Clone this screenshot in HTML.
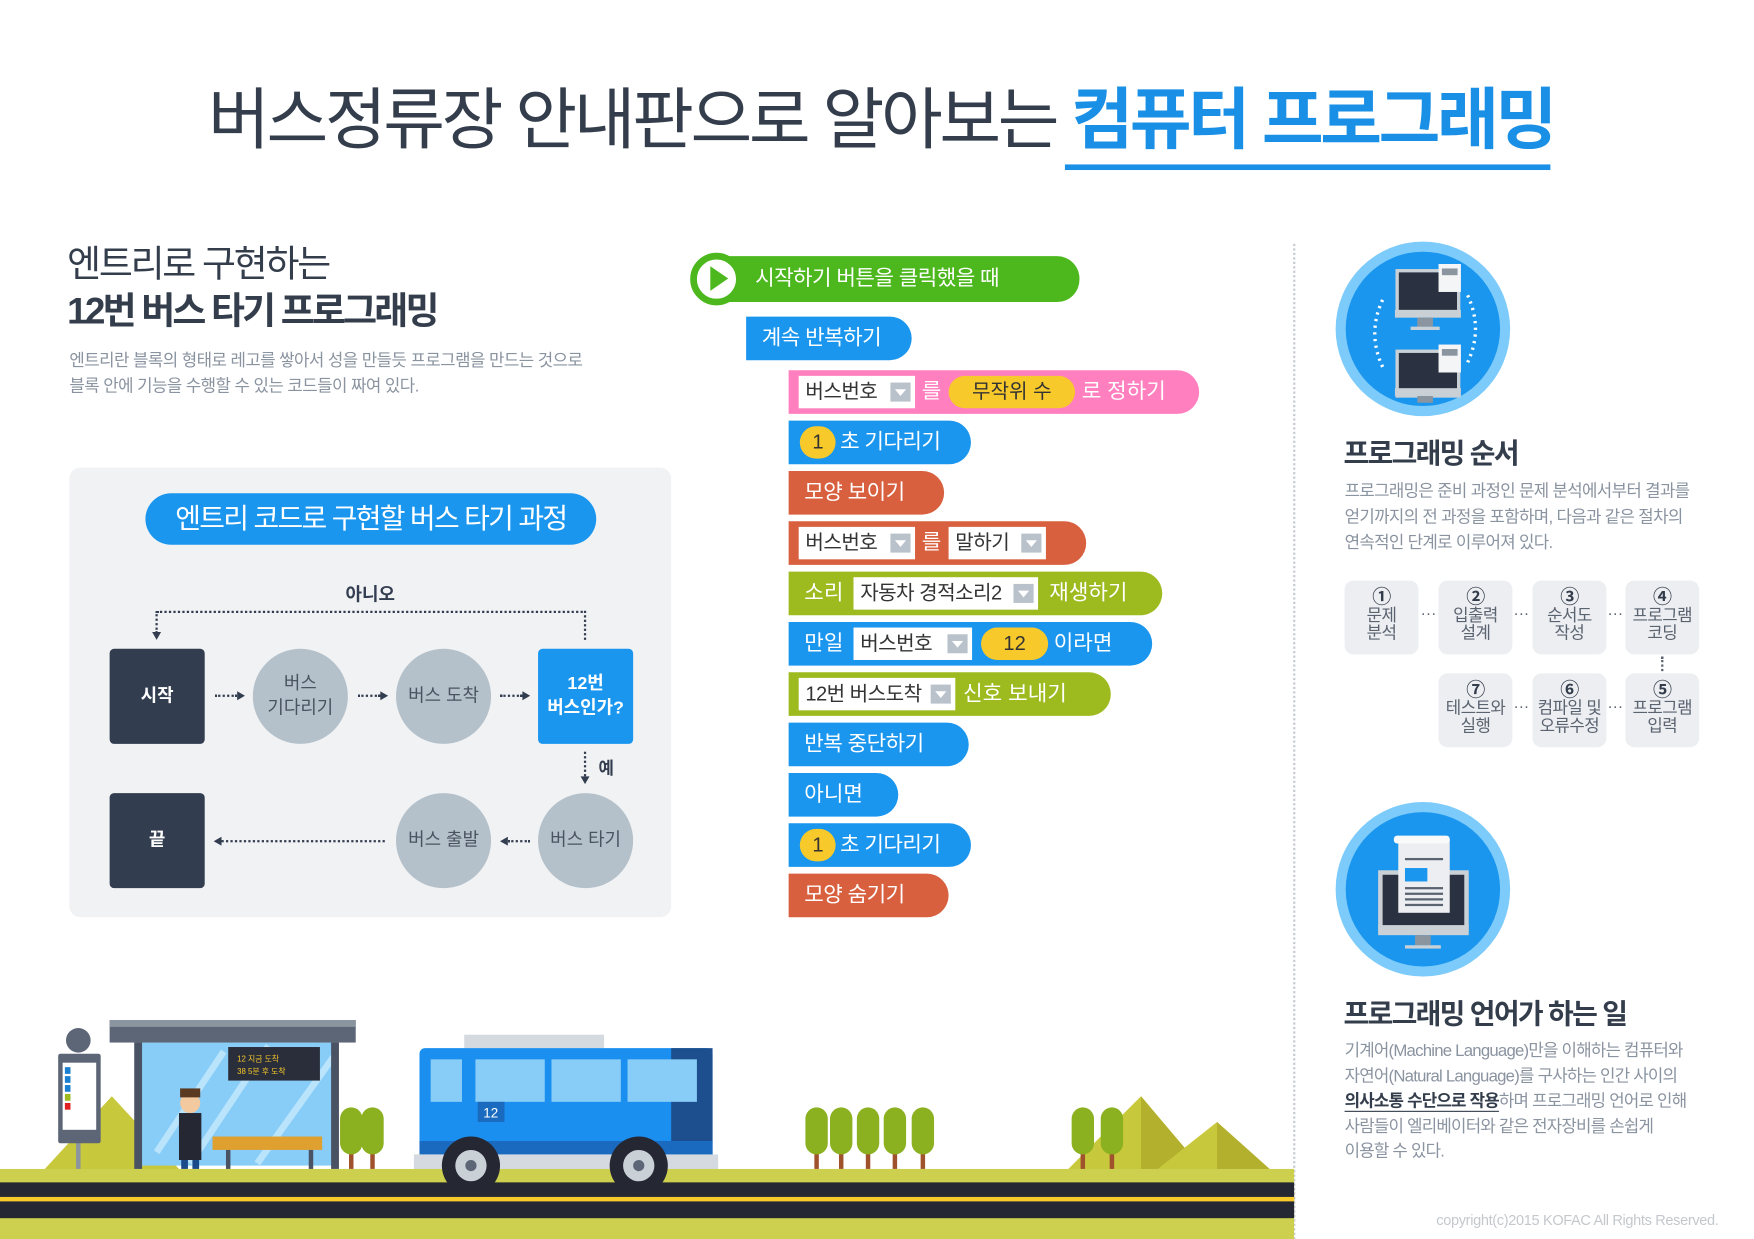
<!DOCTYPE html>
<html><head><meta charset="utf-8"><style>
*{margin:0;padding:0;box-sizing:border-box}
body{width:1754px;height:1239px;overflow:hidden;background:#fff;font-family:"Liberation Sans","Noto Sans CJK KR",sans-serif}
#w{position:absolute;left:0;top:0;width:1568px;height:1108px;transform:scale(1.11862);transform-origin:0 0}
.a{position:absolute}
.blk{position:absolute;height:39px;border-radius:0 20px 20px 0;color:#fff;font-size:19px;line-height:39px;padding-left:14px;white-space:nowrap}
.dd{position:absolute;top:5px;height:29px;background:#fff;color:#333;font-size:18px;line-height:29px;padding-left:6px;letter-spacing:-0.5px}
.dd i{position:absolute;right:4px;top:6px;width:18px;height:17px;background:#b9c2cb}
.dd i:after{content:"";position:absolute;left:4px;top:6px;border-left:5px solid transparent;border-right:5px solid transparent;border-top:6px solid #fff}
.yl{position:absolute;top:5px;height:29px;background:#f8c92a;border-radius:15px;color:#333;font-size:18px;line-height:29px;text-align:center}
.node{position:absolute;width:85px;height:85px;display:flex;align-items:center;justify-content:center;text-align:center;font-size:16px;line-height:22px}
.sq{background:#333d50;color:#fff;border-radius:4px;font-weight:bold}
.ci{background:#b5c1ca;color:#4a5360;border-radius:50%}
.dot{position:absolute;border-top:2px dotted #333d50;height:0}
.vdot{position:absolute;border-left:2px dotted #333d50;width:0}
.arr{position:absolute;width:0;height:0}
.step{position:absolute;width:66px;height:66px;background:#eceef1;border-radius:8px;color:#5a6370;font-size:15px;line-height:16px;text-align:center;padding-top:6px;letter-spacing:-0.5px}
.step b{font-size:17px;color:#333d4b;display:block;line-height:18px}
.sd{position:absolute;color:#5a6370;font-size:14px}
.desc{color:#8a93a0;font-size:15px;line-height:23px}
</style></head><body><div id="w">

<div class="a" style="left:186px;top:68px;font-size:60px;color:#333d4b;letter-spacing:-3px;white-space:nowrap;line-height:80px">버스정류장 안내판으로 알아보는 <span style="color:#1a8fe6;font-weight:bold">컴퓨터 프로그래밍</span></div>
<div class="a" style="left:952px;top:147px;width:434px;height:5px;background:#1a8fe6"></div>

<div class="a" style="left:60px;top:216px;font-size:33px;color:#333d4b;letter-spacing:-2px;line-height:40px">엔트리로 구현하는</div>
<div class="a" style="left:60px;top:258px;font-size:33px;color:#333d4b;font-weight:bold;letter-spacing:-2.5px;line-height:40px">12번 버스 타기 프로그래밍</div>
<div class="a desc" style="left:62px;top:311px;letter-spacing:-0.5px">엔트리란 블록의 형태로 레고를 쌓아서 성을 만들듯 프로그램을 만드는 것으로<br>블록 안에 기능을 수행할 수 있는 코드들이 짜여 있다.</div>

<div class="a" style="left:62px;top:418px;width:538px;height:402px;background:#f1f2f4;border-radius:10px"></div>
<div class="a" style="left:130px;top:441px;width:403px;height:46px;background:#1a96ef;border-radius:23px;color:#fff;font-size:25px;line-height:46px;text-align:center;letter-spacing:-1.5px">엔트리 코드로 구현할 버스 타기 과정</div>
<div class="a" style="left:300px;top:518px;width:62px;text-align:center;font-size:16px;font-weight:bold;color:#333d50">아니오</div>
<div class="dot" style="left:140px;top:546px;width:384px"></div>
<div class="vdot" style="left:139px;top:546px;height:20px"></div>
<div class="arr" style="left:136px;top:565px;border-left:4px solid transparent;border-right:4px solid transparent;border-top:7px solid #333d50"></div>
<div class="vdot" style="left:522px;top:546px;height:26px"></div>

<div class="node sq" style="left:98px;top:580px">시작</div>
<div class="node ci" style="left:226px;top:580px">버스<br>기다리기</div>
<div class="node ci" style="left:354px;top:580px">버스 도착</div>
<div class="node sq" style="left:481px;top:580px;background:#1a96ef">12번<br>버스인가?</div>
<div class="dot" style="left:192px;top:621px;width:20px"></div><div class="arr" style="left:212px;top:618px;border-top:4px solid transparent;border-bottom:4px solid transparent;border-left:7px solid #333d50"></div>
<div class="dot" style="left:320px;top:621px;width:20px"></div><div class="arr" style="left:340px;top:618px;border-top:4px solid transparent;border-bottom:4px solid transparent;border-left:7px solid #333d50"></div>
<div class="dot" style="left:447px;top:621px;width:20px"></div><div class="arr" style="left:467px;top:618px;border-top:4px solid transparent;border-bottom:4px solid transparent;border-left:7px solid #333d50"></div>
<div class="vdot" style="left:522px;top:672px;height:22px"></div><div class="arr" style="left:519px;top:694px;border-left:4px solid transparent;border-right:4px solid transparent;border-top:7px solid #333d50"></div>
<div class="a" style="left:535px;top:676px;font-size:15px;font-weight:bold;color:#333d50">예</div>

<div class="node sq" style="left:98px;top:709px">끝</div>
<div class="node ci" style="left:354px;top:709px">버스 출발</div>
<div class="node ci" style="left:481px;top:709px">버스 타기</div>
<div class="dot" style="left:198px;top:751px;width:146px"></div><div class="arr" style="left:191px;top:748px;border-top:4px solid transparent;border-bottom:4px solid transparent;border-right:7px solid #333d50"></div>
<div class="dot" style="left:454px;top:751px;width:20px"></div><div class="arr" style="left:447px;top:748px;border-top:4px solid transparent;border-bottom:4px solid transparent;border-right:7px solid #333d50"></div>

<div class="blk" style="left:640px;top:229px;width:325px;height:41px;background:#4cb81e;padding-left:35px;line-height:41px;letter-spacing:-0.5px">시작하기 버튼을 클릭했을 때</div>
<div class="a" style="left:617px;top:226px;width:47px;height:47px;border-radius:50%;background:#fff;border:6px solid #4cb81e"></div>
<div class="arr" style="left:635px;top:238px;border-top:11px solid transparent;border-bottom:11px solid transparent;border-left:16px solid #4cb81e"></div>

<div class="blk" style="left:667px;top:283px;width:148px;background:#1a96ef;letter-spacing:-0.5px">계속 반복하기</div>

<div class="blk" style="left:705px;top:331px;width:367px;background:#ff7fbf">
 <div class="dd" style="left:9px;width:104px">버스번호<i></i></div>
 <span style="position:absolute;left:119px">를</span>
 <div class="yl" style="left:143px;width:113px">무작위 수</div>
 <span style="position:absolute;left:262px">로 정하기</span>
</div>
<div class="blk" style="left:705px;top:376px;width:163px;background:#1a96ef;padding-left:46px;letter-spacing:-0.5px"><div class="yl" style="left:10px;width:32px">1</div>초 기다리기</div>
<div class="blk" style="left:705px;top:421px;width:139px;background:#d8603f;letter-spacing:-0.5px">모양 보이기</div>
<div class="blk" style="left:705px;top:466px;width:266px;background:#d8603f">
 <div class="dd" style="left:9px;width:104px">버스번호<i></i></div>
 <span style="position:absolute;left:119px">를</span>
 <div class="dd" style="left:143px;width:87px">말하기<i></i></div>
</div>
<div class="blk" style="left:705px;top:511px;width:334px;background:#9dba1f">소리
 <div class="dd" style="left:58px;width:165px">자동차 경적소리2<i></i></div>
 <span style="position:absolute;left:233px">재생하기</span>
</div>
<div class="blk" style="left:705px;top:556px;width:325px;background:#1a96ef">만일
 <div class="dd" style="left:58px;width:106px">버스번호<i></i></div>
 <div class="yl" style="left:172px;width:60px">12</div>
 <span style="position:absolute;left:237px">이라면</span>
</div>
<div class="blk" style="left:705px;top:601px;width:288px;background:#9dba1f">
 <div class="dd" style="left:9px;width:140px">12번 버스도착<i></i></div>
 <span style="position:absolute;left:156px">신호 보내기</span>
</div>
<div class="blk" style="left:705px;top:646px;width:161px;background:#1a96ef;letter-spacing:-0.5px">반복 중단하기</div>
<div class="blk" style="left:705px;top:691px;width:98px;background:#1a96ef">아니면</div>
<div class="blk" style="left:705px;top:736px;width:163px;background:#1a96ef;padding-left:46px;letter-spacing:-0.5px"><div class="yl" style="left:10px;width:32px">1</div>초 기다리기</div>
<div class="blk" style="left:705px;top:781px;width:143px;background:#d8603f;letter-spacing:-0.5px">모양 숨기기</div>

<div class="a" style="left:1156px;top:218px;height:890px;border-left:2px dotted #c8ccd2"></div>

<div class="a" style="left:1194px;top:216px;width:156px;height:156px;border-radius:50%;background:#7dcbfa"></div>
<div class="a" style="left:1203px;top:225px;width:138px;height:138px;border-radius:50%;background:#1a96ef"></div>
<svg class="a" style="left:1194px;top:216px" width="156" height="156">
 <rect x="55" y="26" width="55" height="40" fill="#2a3140" stroke="#c9d0d6" stroke-width="3"/>
 <rect x="53" y="61" width="59" height="7" fill="#c9d0d6"/><rect x="73" y="68" width="14" height="8" fill="#8a95a0"/><rect x="67" y="76" width="26" height="3" fill="#c9d0d6"/>
 <rect x="92" y="20" width="20" height="25" fill="#f4f5f6"/><rect x="95" y="24" width="14" height="6" fill="#8a95a0"/>
 <rect x="55" y="98" width="55" height="40" fill="#2a3140" stroke="#c9d0d6" stroke-width="3"/>
 <rect x="53" y="131" width="59" height="7" fill="#c9d0d6"/><rect x="73" y="138" width="14" height="6" fill="#8a95a0"/>
 <rect x="92" y="92" width="20" height="25" fill="#f4f5f6"/><rect x="95" y="96" width="14" height="6" fill="#8a95a0"/>
 <path d="M42 112 Q28 82 42 52" stroke="#fff" stroke-width="3" stroke-dasharray="2 4" fill="none"/>
 <path d="M118 48 Q132 78 118 108" stroke="#fff" stroke-width="3" stroke-dasharray="2 4" fill="none"/>
</svg>
<div class="a" style="left:1201px;top:386px;font-size:25px;font-weight:bold;color:#333d4b;letter-spacing:-1.5px">프로그래밍 순서</div>
<div class="a desc" style="left:1202px;top:428px;letter-spacing:-0.6px">프로그래밍은 준비 과정인 문제 분석에서부터 결과를<br>얻기까지의 전 과정을 포함하며, 다음과 같은 절차의<br>연속적인 단계로 이루어져 있다.</div>

<div class="step" style="left:1202px;top:519px"><b>①</b>문제<br>분석</div>
<div class="step" style="left:1286px;top:519px"><b>②</b>입출력<br>설계</div>
<div class="step" style="left:1370px;top:519px"><b>③</b>순서도<br>작성</div>
<div class="step" style="left:1453px;top:519px"><b>④</b>프로그램<br>코딩</div>
<div class="step" style="left:1286px;top:602px"><b>⑦</b>테스트와<br>실행</div>
<div class="step" style="left:1370px;top:602px"><b>⑥</b>컴파일 및<br>오류수정</div>
<div class="step" style="left:1453px;top:602px"><b>⑤</b>프로그램<br>입력</div>
<div class="sd" style="left:1270px;top:540px">···</div>
<div class="sd" style="left:1353px;top:540px">···</div>
<div class="sd" style="left:1437px;top:540px">···</div>
<div class="sd" style="left:1353px;top:623px">···</div>
<div class="sd" style="left:1437px;top:623px">···</div>
<div class="vdot" style="left:1485px;top:587px;height:13px;border-color:#5a6370"></div>

<div class="a" style="left:1194px;top:717px;width:156px;height:156px;border-radius:50%;background:#7dcbfa"></div>
<div class="a" style="left:1203px;top:726px;width:138px;height:138px;border-radius:50%;background:#1a96ef"></div>
<svg class="a" style="left:1194px;top:717px" width="156" height="156">
 <rect x="40" y="63" width="77" height="50" fill="#2a3140" stroke="#c9d0d6" stroke-width="4"/>
 <rect x="38" y="110" width="81" height="9" fill="#c9d0d6"/><rect x="71" y="119" width="14" height="9" fill="#8a95a0"/><rect x="62" y="128" width="32" height="3" fill="#c9d0d6"/>
 <rect x="56" y="33" width="46" height="66" fill="#eceef1"/><rect x="52" y="30" width="50" height="7" rx="3" fill="#f8f9fa"/>
 <rect x="62" y="59" width="20" height="12" fill="#1a96ef"/>
 <g fill="#5a6370"><rect x="62" y="50" width="34" height="2"/><rect x="62" y="76" width="34" height="2"/><rect x="62" y="81" width="34" height="2"/><rect x="62" y="86" width="34" height="2"/><rect x="62" y="91" width="34" height="2"/></g>
</svg>
<div class="a" style="left:1201px;top:887px;font-size:25px;font-weight:bold;color:#333d4b;letter-spacing:-1.5px">프로그래밍 언어가 하는 일</div>
<div class="a desc" style="left:1202px;top:929px;letter-spacing:-0.7px;line-height:22.5px">기계어(Machine Language)만을 이해하는 컴퓨터와<br>자연어(Natural Language)를 구사하는 인간 사이의<br><b style="color:#333d4b;border-bottom:1.5px solid #333d4b">의사소통 수단으로 작용</b>하며 프로그래밍 언어로 인해<br>사람들이 엘리베이터와 같은 전자장비를 손쉽게<br>이용할 수 있다.</div>
<div class="a" style="left:1284px;top:1083px;font-size:13px;color:#c4c8cd;letter-spacing:-0.3px">copyright(c)2015 KOFAC All Rights Reserved.</div>

<svg class="a" style="left:0;top:900px" width="1157" height="208">
 <polygon points="40,145 100,80 160,145" fill="#c8c83c"/>
 <polygon points="955,145 1020,80 1075,145" fill="#c8c83c"/><polygon points="1020,80 1075,145 1020,145" fill="#b3b02e"/>
 <polygon points="1035,145 1088,103 1135,145" fill="#c8c83c"/><polygon points="1088,103 1135,145 1088,145" fill="#b3b02e"/>
 <g fill="#a0522d"><rect x="728" y="120" width="4" height="25"/><rect x="750" y="120" width="4" height="25"/><rect x="774" y="120" width="4" height="25"/><rect x="798" y="120" width="4" height="25"/><rect x="823" y="120" width="4" height="25"/><rect x="966" y="120" width="4" height="25"/><rect x="992" y="120" width="4" height="25"/><rect x="312" y="120" width="4" height="25"/><rect x="331" y="120" width="4" height="25"/></g>
 <g fill="#8bb020"><rect x="720" y="90" width="20" height="42" rx="10"/><rect x="742" y="90" width="20" height="42" rx="10"/><rect x="766" y="90" width="20" height="42" rx="10"/><rect x="790" y="90" width="20" height="42" rx="10"/><rect x="815" y="90" width="20" height="42" rx="10"/><rect x="958" y="90" width="20" height="42" rx="10"/><rect x="984" y="90" width="20" height="42" rx="10"/><rect x="304" y="90" width="20" height="42" rx="10"/><rect x="323" y="90" width="20" height="42" rx="10"/></g>
 <rect x="68" y="100" width="4" height="45" fill="#8a95a0"/>
 <circle cx="70" cy="30" r="11" fill="#5d6677"/><rect x="52" y="42" width="38" height="80" rx="2" fill="#5d6677"/><rect x="56" y="50" width="30" height="60" fill="#fff"/>
 <g><rect x="58" y="54" width="5" height="6" fill="#1a7fd0"/><rect x="58" y="62" width="5" height="6" fill="#1a7fd0"/><rect x="58" y="70" width="5" height="6" fill="#1a7fd0"/><rect x="58" y="78" width="5" height="6" fill="#9dba1f"/><rect x="58" y="86" width="5" height="6" fill="#e02020"/></g>
 <rect x="125" y="32" width="173" height="110" fill="#88cdf7"/>
 <path d="M140 130 L200 40 M170 140 L240 35 M230 140 L298 45" stroke="#b9e4fb" stroke-width="6"/>
 <rect x="98" y="12" width="220" height="20" fill="#5d6677"/><rect x="98" y="12" width="220" height="6" fill="#8a95a0"/>
 <rect x="120" y="32" width="7" height="113" fill="#4a5364"/><rect x="296" y="32" width="7" height="113" fill="#4a5364"/>
 <rect x="204" y="36" width="82" height="30" fill="#2a2e3a"/>
 <text x="212" y="49" font-size="7" fill="#f8c92a" font-family="Liberation Sans, Noto Sans CJK KR, sans-serif">12    지금 도착</text>
 <text x="212" y="60" font-size="7" fill="#f8c92a" font-family="Liberation Sans, Noto Sans CJK KR, sans-serif">38    5분 후 도착</text>
 <rect x="190" y="116" width="98" height="12" fill="#e0a030"/><rect x="202" y="128" width="4" height="17" fill="#4a5364"/><rect x="276" y="128" width="4" height="17" fill="#4a5364"/>
 <rect x="160" y="95" width="20" height="42" fill="#252733"/><rect x="162" y="137" width="6" height="8" fill="#1a4a8a"/><rect x="172" y="137" width="6" height="8" fill="#1a4a8a"/>
 <circle cx="170" cy="86" r="9" fill="#f3c9a0"/><rect x="161" y="73" width="18" height="8" fill="#5a3a20"/>
 <rect x="415" y="25" width="125" height="12" fill="#d5dae0"/>
 <rect x="375" y="37" width="262" height="104" rx="5" fill="#1a8ff0"/>
 <rect x="600" y="37" width="37" height="104" fill="#1d4f8f"/>
 <rect x="375" y="120" width="262" height="12" fill="#1a6bc0"/>
 <rect x="370" y="132" width="272" height="14" fill="#d5dae0"/>
 <g fill="#88cdf7"><rect x="385" y="47" width="28" height="38"/><rect x="425" y="47" width="62" height="38"/><rect x="493" y="47" width="62" height="38"/><rect x="561" y="47" width="62" height="38"/></g>
 <rect x="427" y="85" width="24" height="18" fill="#1a6bc0"/><text x="432" y="99" font-size="12" fill="#fff" font-family="Liberation Sans, sans-serif">12</text>
 <rect x="0" y="145" width="1157" height="63" fill="#cdd04e"/>
 <rect x="0" y="157" width="1157" height="32" fill="#252733"/>
 <rect x="0" y="170" width="1157" height="4" fill="#f8c92a"/>
 <circle cx="421" cy="142" r="26" fill="#252733"/><circle cx="421" cy="142" r="14" fill="#c9d0d6"/><circle cx="421" cy="142" r="5" fill="#5d6677"/>
 <circle cx="571" cy="142" r="26" fill="#252733"/><circle cx="571" cy="142" r="14" fill="#c9d0d6"/><circle cx="571" cy="142" r="5" fill="#5d6677"/>
</svg>

</div></body></html>
